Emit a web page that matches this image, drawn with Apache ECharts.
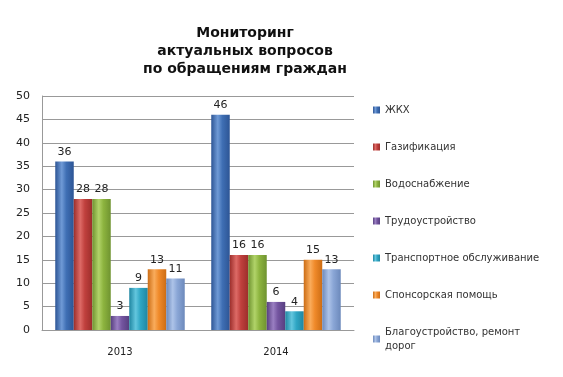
<!DOCTYPE html>
<html>
<head>
<meta charset="utf-8">
<script src="https://cdn.jsdelivr.net/npm/echarts@6/dist/echarts.min.js"></script>
<style>
  html, body { margin: 0; padding: 0; background: #fff; }
  #chart { width: 563px; height: 377px; }
</style>
</head>
<body>
<div id="chart"></div>
<script>
const years = ['2013', '2014'];
const seriesNames = [
    'ЖКХ',
    'Газификация',
    'Водоснабжение',
    'Трудоустройство',
    'Транспортное обслуживание',
    'Спонсорская помощь',
    'Благоустройство, ремонт дорог'
];
const zhkh = [36, 46];
const gas = [28, 16];
const water = [28, 16];
const jobs = [3, 6];
const transport = [9, 4];
const sponsor = [13, 15];
const roads = [11, 13];
const yTicks = { min: 0, max: 50, interval: 5 };

const allValues = [zhkh, gas, water, jobs, transport, sponsor, roads];
// base colour, light edge, dark edge
const palette = [
    ['#3f6fb4', '#6f9ad6', '#2d5595'],
    ['#c0403d', '#dd6a66', '#9c2e2b'],
    ['#8db43f', '#b1d369', '#6f9330'],
    ['#7455a0', '#9a7fc2', '#573f80'],
    ['#2fa6c4', '#63c6de', '#1f86a1'],
    ['#f08a2a', '#f9ac5c', '#cc6d15'],
    ['#8aa6d6', '#adc3e8', '#6c89bb']
];

function barGradient(c) {
    return new echarts.graphic.LinearGradient(0, 0, 1, 0, [
        { offset: 0, color: c[2] },
        { offset: 0.35, color: c[1] },
        { offset: 0.6, color: c[0] },
        { offset: 1, color: c[2] }
    ]);
}

const chart = echarts.init(document.getElementById('chart'));

const series = seriesNames.map((name, i) => ({
    name: name,
    type: 'bar',
    data: allValues[i],
    barGap: '0%',
    barCategoryGap: '17%',
    itemStyle: { color: barGradient(palette[i]) },
    label: {
        show: true,
        position: 'top',
        distance: 4,
        fontSize: 11,
        color: '#222',
        fontFamily: 'DejaVu Sans'
    }
}));

chart.setOption({
    animation: false,
    title: {
        text: 'Мониторинг\nактуальных вопросов\nпо обращениям граждан',
        left: 240,
        textAlign: 'center',
        top: 19,
        textStyle: {
            fontSize: 14,
            fontWeight: 'bold',
            fontFamily: 'DejaVu Sans',
            color: '#111',
            lineHeight: 18
        }
    },
    legend: {
        orient: 'vertical',
        left: 373,
        top: 103,
        padding: 0,
        itemWidth: 7,
        itemHeight: 7,
        itemGap: 23,
        icon: 'rect',
        formatter: (name) => name === 'Благоустройство, ремонт дорог' ? 'Благоустройство, ремонт\nдорог' : name,
        textStyle: { fontSize: 10, color: '#333', fontFamily: 'DejaVu Sans', lineHeight: 14 }
    },
    grid: { left: 42, right: 209, top: 96, bottom: 47 },
    xAxis: {
        type: 'category',
        data: years,
        axisTick: { show: false },
        axisLine: { lineStyle: { color: '#999' } },
        axisLabel: { fontSize: 10, color: '#222', margin: 17, fontFamily: 'DejaVu Sans' }
    },
    yAxis: {
        type: 'value',
        min: yTicks.min,
        max: yTicks.max,
        interval: yTicks.interval,
        axisLine: { show: true, lineStyle: { color: '#999' } },
        axisTick: { show: false },
        splitLine: { lineStyle: { color: '#999' } },
        axisLabel: { fontSize: 11, color: '#222', margin: 12, fontFamily: 'DejaVu Sans' }
    },
    series: series
});
</script>
</body>
</html>
